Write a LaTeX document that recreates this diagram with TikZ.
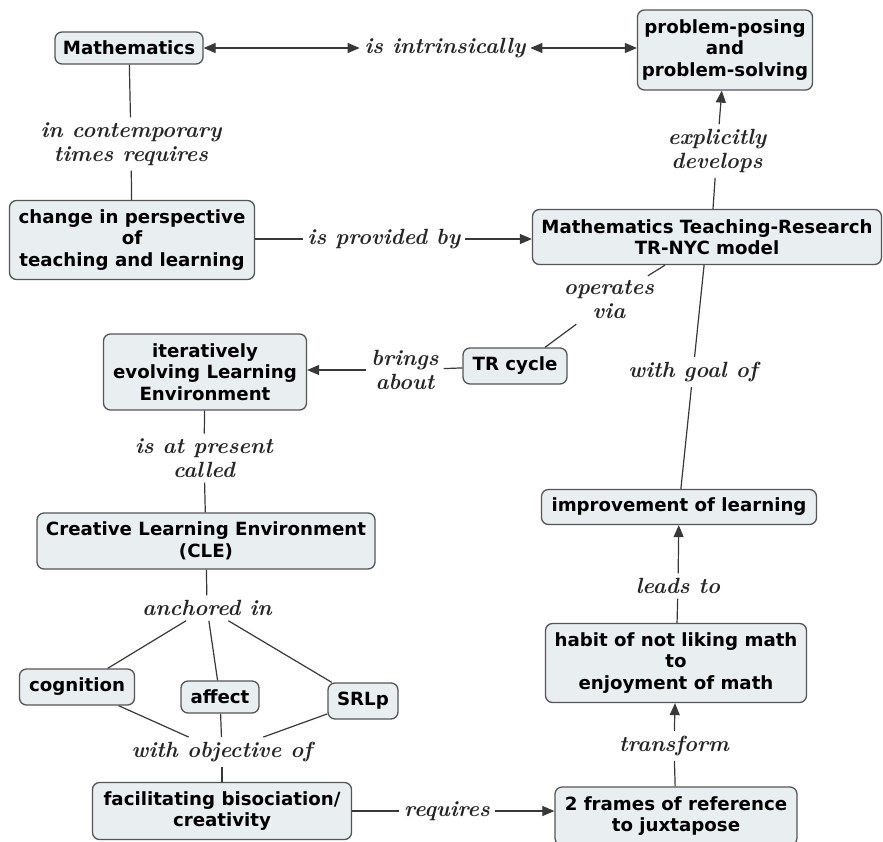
\documentclass[tikz,border=0pt]{standalone}
\usepackage{fontspec}
\newfontfamily\boxfont{DejaVu Sans}
\usetikzlibrary{arrows.meta}
\definecolor{boxfill}{HTML}{E9EEF1}
\definecolor{boxline}{HTML}{555555}
\definecolor{linkgray}{HTML}{383838}
\tikzset{
  concept/.style={draw=boxline, fill=boxfill, rounded corners=7pt, line width=1.3pt,
    font=\boxfont\bfseries\fontsize{18.2}{21.5}\selectfont, align=center, inner sep=0pt},
  lbl/.style={font=\bfseries\itshape\addfontfeatures{LetterSpace=4}\fontsize{22}{24}\selectfont,
    text=black!85, align=center, inner sep=1pt, outer sep=4pt},
  link/.style={draw=linkgray, line width=1.2pt},
  tip/.style={Triangle[length=12pt,width=10pt]},
  arr/.style={link, -{Triangle[length=12pt,width=10pt]}},
  barr/.style={link, {Triangle[length=12pt,width=10pt]}-{Triangle[length=12pt,width=10pt]}}
}
\begin{document}
\begin{tikzpicture}[x=1pt,y=-1pt]
\useasboundingbox (0,0) rectangle (883,841);
\fill[white] (0,0) rectangle (883,841);

% concepts
\node[concept, minimum width=148, minimum height=32] (math) at (129,48) {Mathematics};
\node[concept, minimum width=175, minimum height=80] (prob) at (725,50) {problem-posing\\and\\problem-solving};
\node[concept, minimum width=245, minimum height=79] (chg) at (132,240) {change in perspective\\of\\teaching and learning};
\node[concept, minimum width=349, minimum height=55] (mt) at (707,237) {Mathematics Teaching-Research\\TR-NYC model};
\node[concept, minimum width=104, minimum height=36] (tr) at (515,366) {TR cycle};
\node[concept, minimum width=203, minimum height=76] (iter) at (205,372) {iteratively\\evolving Learning\\Environment};
\node[concept, minimum width=338, minimum height=56] (cle) at (206,541) {Creative Learning Environment\\(CLE)};
\node[concept, minimum width=115, minimum height=36] (cog) at (77,687) {cognition};
\node[concept, minimum width=78, minimum height=32] (aff) at (220,697) {affect};
\node[concept, minimum width=70, minimum height=36] (srl) at (363,701) {SRLp};
\node[concept, minimum width=259, minimum height=57] (fac) at (222,811) {facilitating bisociation/\\creativity};
\node[concept, minimum width=242, minimum height=58] (two) at (676,816) {2 frames of reference\\to juxtapose};
\node[concept, minimum width=261, minimum height=79] (habit) at (676,663) {habit of not liking math\\to\\enjoyment of math};
\node[concept, minimum width=275, minimum height=35] (impr) at (679,507) {improvement of learning};

% linking phrases
\node[lbl] (intr) at (445,48) {is intrinsically};
\node[lbl] (ctr) at (131,144) {in contemporary\\times requires};
\node[lbl] (prov) at (384,239) {is provided by};
\node[lbl] (expl) at (717,151) {explicitly\\develops};
\node[lbl] (oper) at (609,300) {operates\\via};
\node[lbl] (brings) at (405,370) {brings\\about};
\node[lbl] (pres) at (204,458) {is at present\\called};
\node[lbl] (goal) at (693,372) {with goal of};
\node[lbl] (anch) at (207,608) {anchored in};
\node[lbl] (obj) at (222,752) {with objective of};
\node[lbl] (req) at (447,811) {requires};
\node[lbl] (trans) at (674,746) {transform};
\node[lbl] (leads) at (678,586) {leads to};

% connectors
\draw[barr] (math) -- (intr);
\draw[barr] (intr) -- (intr -| prob.west);
\draw[link] (math) -- (ctr);
\draw[link] (ctr) -- (chg);
\draw[link] (chg.east |- prov) -- (prov);
\draw[arr] (prov) -- (prov -| mt.west);
\draw[link] ([xshift=6]mt.north) -- (expl);
\draw[arr] (expl) -- (prob);
\draw[link] ([xshift=-42]mt.south) -- (oper);
\draw[link] (oper) -- ([xshift=30]tr.north);
\draw[link] (tr) -- (brings);
\draw[arr] (brings) -- (brings -| iter.east);
\draw[link] (iter) -- (pres);
\draw[link] (pres) -- (cle);
\draw[link] (mt) -- (goal);
\draw[link] (goal) -- (impr);
\draw[link] (cle) -- (anch);
\draw[link] (anch) -- (cog);
\draw[link] (anch) -- (aff);
\draw[link] (anch) -- (srl);
\draw[link] (cog) -- (obj);
\draw[link] (aff) -- (obj);
\draw[link] (srl) -- (obj);
\draw[link] (obj) -- (fac);
\draw[link] (fac) -- (req);
\draw[arr] (req) -- (req -| two.west);
\draw[link] (two) -- (trans);
\draw[arr] (trans) -- (habit);
\draw[link] (habit) -- (leads);
\draw[arr] (leads) -- (impr);
\end{tikzpicture}
\end{document}
